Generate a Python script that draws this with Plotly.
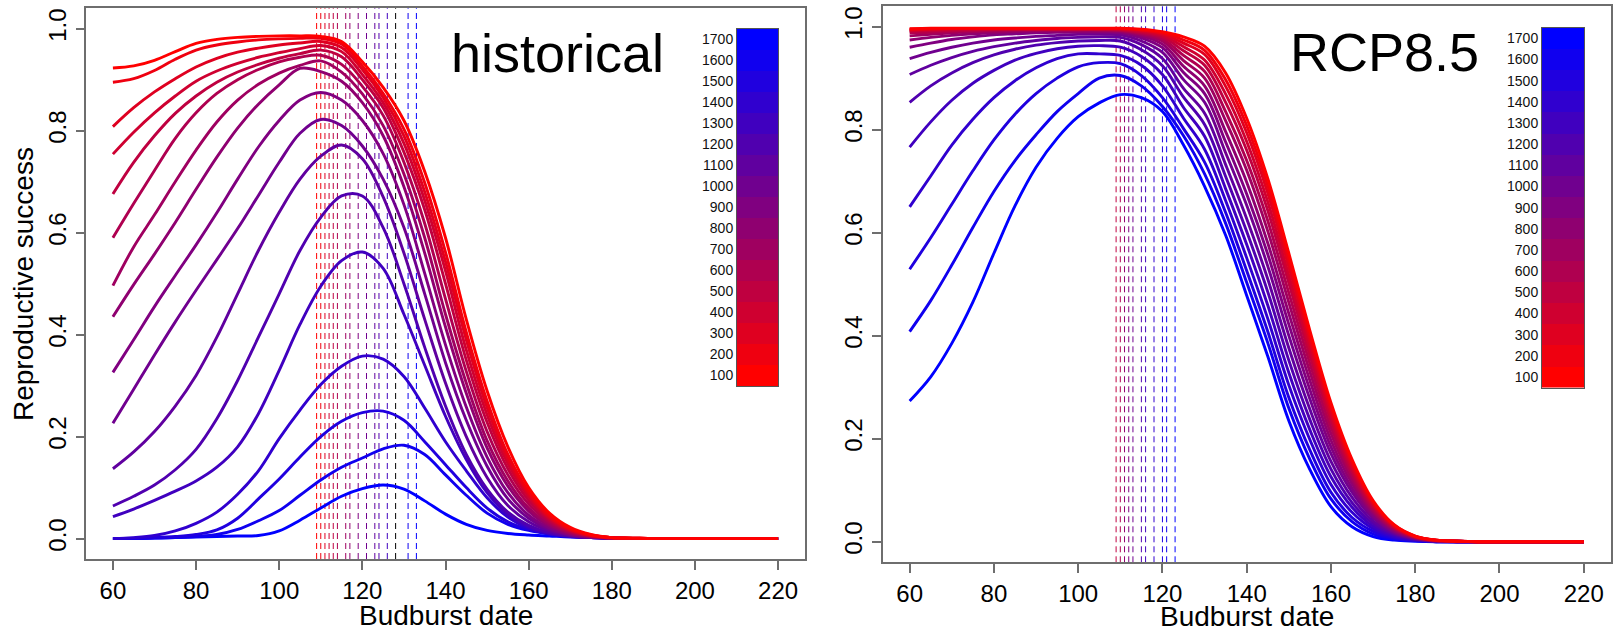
import plotly.graph_objects as go

# ---------------- data ----------------
budburst_x = [60, 65, 70, 75, 80, 85, 90, 95, 100, 105, 110, 115, 120, 125, 130, 135, 140, 145, 150, 155,
              160, 165, 170, 175, 180, 185, 190, 195, 200, 205, 210, 215, 220]
elevations = [100, 200, 300, 400, 500, 600, 700, 800, 900, 1000, 1100, 1200, 1300, 1400, 1500, 1600, 1700]

# historical climate: reproductive success per elevation
hist_100 = [.923, .927, .938, .955, .971, .979, .983, .985, .986, .986, .985, .975, .935, .885, .82, .72, .59, .43, .29, .18, .10, .05, .022, .008, .002, .001, 0, 0, 0, 0, 0, 0, 0]
hist_200 = [.895, .902, .918, .94, .958, .968, .974, .978, .98, .981, .981, .97, .927, .873, .803, .698, .562, .405, .27, .165, .092, .045, .019, .007, .002, .001, 0, 0, 0, 0, 0, 0, 0]
hist_300 = [.808, .845, .876, .902, .925, .942, .954, .962, .968, .972, .975, .963, .92, .865, .79, .68, .543, .39, .257, .156, .087, .042, .018, .006, .002, .001, 0, 0, 0, 0, 0, 0, 0]
hist_400 = [.754, .797, .835, .868, .897, .917, .932, .944, .953, .961, .967, .955, .91, .855, .775, .663, .525, .37, .243, .147, .082, .039, .016, .006, .002, .001, 0, 0, 0, 0, 0, 0, 0]
hist_500 = [.676, .738, .79, .834, .868, .895, .915, .93, .942, .951, .958, .945, .9, .845, .758, .645, .5, .35, .228, .137, .075, .036, .015, .005, .001, 0, 0, 0, 0, 0, 0, 0, 0]
hist_600 = [.59, .657, .722, .785, .835, .873, .9, .92, .935, .944, .948, .93, .887, .83, .738, .618, .47, .328, .21, .125, .068, .032, .013, .005, .001, 0, 0, 0, 0, 0, 0, 0, 0]
hist_700 = [.496, .572, .635, .70, .762, .817, .86, .891, .913, .928, .937, .915, .872, .81, .715, .59, .44, .305, .192, .113, .06, .028, .011, .004, .001, 0, 0, 0, 0, 0, 0, 0, 0]
hist_800 = [.435, .498, .558, .62, .685, .748, .805, .852, .89, .922, .916, .897, .855, .79, .69, .56, .415, .285, .178, .103, .054, .025, .01, .004, .001, 0, 0, 0, 0, 0, 0, 0, 0]
hist_900 = [.326, .39, .455, .516, .576, .639, .705, .768, .82, .86, .875, .86, .82, .755, .655, .52, .38, .258, .16, .09, .046, .021, .008, .003, .001, 0, 0, 0, 0, 0, 0, 0, 0]
hist_1000 = [.226, .293, .36, .425, .487, .547, .608, .673, .738, .795, .822, .81, .77, .705, .61, .48, .345, .232, .142, .078, .04, .018, .007, .003, .001, 0, 0, 0, 0, 0, 0, 0, 0]
hist_1100 = [.137, .17, .21, .26, .32, .395, .48, .565, .64, .705, .75, .772, .745, .67, .56, .43, .305, .2, .12, .065, .033, .015, .006, .002, .001, 0, 0, 0, 0, 0, 0, 0, 0]
hist_1200 = [.064, .083, .105, .135, .175, .235, .31, .395, .48, .565, .63, .672, .672, .61, .5, .375, .26, .165, .097, .052, .026, .012, .005, .002, .001, 0, 0, 0, 0, 0, 0, 0, 0]
hist_1300 = [.043, .058, .075, .093, .113, .14, .18, .245, .33, .42, .495, .545, .562, .53, .44, .34, .24, .155, .09, .047, .023, .011, .005, .002, .001, 0, 0, 0, 0, 0, 0, 0, 0]
hist_1400 = [0, .002, .006, .015, .03, .052, .087, .133, .196, .252, .302, .338, .358, .352, .318, .256, .19, .133, .08, .042, .02, .009, .004, .002, .001, 0, 0, 0, 0, 0, 0, 0, 0]
hist_1500 = [0, .001, .002, .004, .008, .017, .04, .078, .117, .16, .2, .23, .247, .25, .232, .19, .145, .1, .06, .033, .018, .01, .005, .003, .001, 0, 0, 0, 0, 0, 0, 0, 0]
hist_1600 = [0, 0, .001, .002, .004, .008, .018, .035, .055, .085, .115, .14, .158, .176, .183, .165, .125, .085, .05, .028, .016, .009, .005, .003, .001, 0, 0, 0, 0, 0, 0, 0, 0]
hist_1700 = [0, 0, .001, .002, .003, .004, .005, .006, .015, .036, .06, .083, .098, .105, .097, .074, .048, .028, .016, .01, .007, .005, .003, .002, .001, 0, 0, 0, 0, 0, 0, 0, 0]

# RCP8.5 climate
rcp_100 = [.996, .997, .997, .997, .997, .997, .997, .997, .997, .997, .997, .995, .99, .98, .962, .91, .822, .705, .56, .41, .27, .16, .08, .033, .011, .003, .001, 0, 0, 0, 0, 0, 0]
rcp_200 = [.995, .996, .996, .996, .996, .996, .996, .996, .996, .996, .996, .994, .988, .974, .954, .897, .808, .691, .547, .399, .262, .155, .077, .032, .011, .003, .001, 0, 0, 0, 0, 0, 0]
rcp_300 = [.994, .995, .996, .996, .996, .996, .996, .996, .996, .996, .996, .993, .986, .968, .946, .884, .794, .677, .533, .388, .253, .149, .074, .031, .010, .003, .001, 0, 0, 0, 0, 0, 0]
rcp_400 = [.993, .994, .995, .995, .995, .995, .995, .995, .995, .995, .995, .991, .983, .961, .935, .869, .777, .66, .517, .375, .244, .143, .071, .029, .010, .003, .001, 0, 0, 0, 0, 0, 0]
rcp_500 = [.991, .992, .993, .994, .995, .995, .995, .995, .995, .995, .994, .989, .98, .953, .925, .853, .76, .643, .502, .361, .234, .136, .067, .028, .009, .002, .001, 0, 0, 0, 0, 0, 0]
rcp_600 = [.988, .989, .991, .992, .993, .994, .994, .994, .994, .994, .993, .987, .976, .944, .913, .835, .74, .623, .483, .346, .222, .129, .063, .026, .009, .002, .001, 0, 0, 0, 0, 0, 0]
rcp_700 = [.982, .985, .988, .99, .991, .992, .993, .993, .993, .993, .992, .985, .972, .934, .9, .817, .721, .603, .464, .33, .21, .121, .059, .024, .008, .002, .001, 0, 0, 0, 0, 0, 0]
rcp_800 = [.974, .979, .983, .986, .988, .99, .991, .991, .991, .991, .99, .982, .966, .923, .885, .796, .698, .58, .443, .313, .197, .113, .055, .022, .007, .002, .001, 0, 0, 0, 0, 0, 0]
rcp_900 = [.96, .968, .975, .98, .984, .986, .988, .989, .989, .989, .988, .978, .959, .911, .87, .776, .675, .558, .422, .295, .184, .104, .05, .02, .007, .002, .001, 0, 0, 0, 0, 0, 0]
rcp_1000 = [.938, .95, .96, .968, .974, .978, .981, .983, .985, .985, .984, .972, .95, .897, .853, .755, .653, .535, .4, .277, .171, .096, .046, .018, .006, .001, 0, 0, 0, 0, 0, 0, 0]
rcp_1100 = [.907, .925, .94, .952, .961, .968, .973, .977, .979, .98, .979, .965, .938, .88, .832, .732, .627, .51, .376, .257, .156, .086, .04, .016, .005, .001, 0, 0, 0, 0, 0, 0, 0]
rcp_1200 = [.853, .885, .91, .93, .945, .956, .964, .969, .972, .973, .972, .955, .924, .863, .81, .709, .602, .485, .352, .237, .141, .076, .035, .014, .005, .001, 0, 0, 0, 0, 0, 0, 0]
rcp_1300 = [.766, .815, .857, .89, .915, .935, .948, .957, .962, .963, .96, .942, .907, .843, .787, .685, .577, .459, .328, .217, .126, .067, .03, .012, .004, .001, 0, 0, 0, 0, 0, 0, 0]
rcp_1400 = [.65, .71, .77, .82, .862, .895, .92, .938, .947, .947, .944, .925, .885, .822, .762, .662, .551, .433, .304, .198, .111, .057, .025, .009, .003, .001, 0, 0, 0, 0, 0, 0, 0]
rcp_1500 = [.529, .59, .655, .72, .78, .83, .87, .9, .922, .93, .928, .905, .862, .802, .737, .639, .526, .408, .28, .178, .096, .047, .02, .007, .002, 0, 0, 0, 0, 0, 0, 0, 0]
rcp_1600 = [.408, .468, .537, .61, .68, .74, .79, .835, .87, .9, .905, .885, .845, .788, .714, .618, .503, .386, .259, .16, .083, .039, .015, .005, .002, 0, 0, 0, 0, 0, 0, 0, 0]
rcp_1700 = [.273, .32, .385, .465, .56, .652, .727, .783, .825, .852, .868, .862, .835, .77, .69, .595, .478, .36, .235, .14, .068, .029, .01, .003, .001, 0, 0, 0, 0, 0, 0, 0, 0]

# optimal budburst dates (dashed lines) and the elevation they belong to (None = black)
hist_dates = [109, 110, 111, 112, 113, 114, 116, 117, 119, 121, 123, 124, 126, 128, 131, 133]
hist_date_elev = [100, 200, 300, 400, 500, 600, 700, 800, 900, 1000, 1100, 1200, 1300, None, 1600, 1700]
rcp_dates = [109, 110, 111, 112, 113, 115, 116, 118, 120, 121, 123]
rcp_date_elev = [500, 600, 800, 900, 1000, 1200, 1300, 1400, 1500, 1600, 1700]

x_ticks = [60, 80, 100, 120, 140, 160, 180, 200, 220]
y_ticks = [0.0, 0.2, 0.4, 0.6, 0.8, 1.0]

hist_series = [hist_100, hist_200, hist_300, hist_400, hist_500, hist_600, hist_700, hist_800, hist_900,
               hist_1000, hist_1100, hist_1200, hist_1300, hist_1400, hist_1500, hist_1600, hist_1700]
rcp_series = [rcp_100, rcp_200, rcp_300, rcp_400, rcp_500, rcp_600, rcp_700, rcp_800, rcp_900,
              rcp_1000, rcp_1100, rcp_1200, rcp_1300, rcp_1400, rcp_1500, rcp_1600, rcp_1700]

# ---------------- style ----------------
FONT = "Liberation Sans, Arial, sans-serif"
W, H = 1617, 631
FRAME = "#6e6e6e"


def elev_color(e):
    if e is None:
        return "#000000"
    t = (e - elevations[0]) / (elevations[-1] - elevations[0])
    return "rgb(%d,0,%d)" % (round(255 * (1 - t)), round(255 * t))


def px_dom(a, b, total):
    return [a / total, b / total]


def py_dom(top, bottom):
    return [1 - bottom / H, 1 - top / H]


panels = [
    dict(xa="x", ya="y", series=hist_series, dates=hist_dates, delev=hist_date_elev,
         xdom=px_dom(86.3, 804.7, W), ydom=py_dom(8.3, 559.0),
         cb_x=px_dom(737, 778, W), cb_y=py_dom(28.5, 386.0), title="historical", title_x=557, title_y=53,
         xlab_y=615),
    dict(xa="x2", ya="y2", series=rcp_series, dates=rcp_dates, delev=rcp_date_elev,
         xdom=px_dom(882.7, 1610.7, W), ydom=py_dom(6.0, 562.3),
         cb_x=px_dom(1542, 1584, W), cb_y=py_dom(27.7, 387.7), title="RCP8.5", title_x=1384, title_y=52,
         xlab_y=616),
]

fig = go.Figure()
shapes = []
annotations = []

for p in panels:
    # dashed optimum lines
    for d, e in zip(p["dates"], p["delev"]):
        shapes.append(dict(type="line", xref=p["xa"], yref=p["ya"] + " domain", x0=d, x1=d, y0=0, y1=1,
                           line=dict(color=elev_color(e), width=1, dash="6px,4px"), layer="below"))
    # curves (blue first, red on top)
    for e, ys in reversed(list(zip(elevations, p["series"]))):
        fig.add_trace(go.Scatter(x=budburst_x, y=ys, mode="lines", xaxis=p["xa"], yaxis=p["ya"],
                                 line=dict(color=elev_color(e), width=2.9, shape="spline", smoothing=1.0),
                                 showlegend=False, hoverinfo="skip"))

# colour bars as small heatmaps
cb_colorscale = [[i / (len(elevations) - 1), elev_color(e)] for i, e in enumerate(elevations)]
for k, p in enumerate(panels):
    xa = "x%d" % (k + 3)
    ya = "y%d" % (k + 3)
    fig.add_trace(go.Heatmap(x=[0], y=elevations, z=[[i] for i in range(len(elevations))],
                             colorscale=cb_colorscale, zmin=0, zmax=len(elevations) - 1,
                             showscale=False, xaxis=xa, yaxis=ya, hoverinfo="skip"))

axis_common = dict(showline=True, mirror=True, linecolor=FRAME, linewidth=1.5, ticks="outside",
                   ticklen=9, tickwidth=1.5, tickcolor=FRAME, showgrid=False, zeroline=False,
                   tickfont=dict(family=FONT, size=24, color="#000"))

layout = dict(width=W, height=H, margin=dict(l=0, r=0, t=0, b=0), autosize=False,
              paper_bgcolor="white", plot_bgcolor="white", font=dict(family=FONT, color="#000"))

for k, p in enumerate(panels):
    xk = "xaxis" if k == 0 else "xaxis2"
    yk = "yaxis" if k == 0 else "yaxis2"
    layout[xk] = dict(axis_common, domain=p["xdom"], range=[53.6, 226.4], tickvals=x_ticks,
                      anchor=p["ya"])
    layout[yk] = dict(axis_common, domain=p["ydom"], range=[-0.04, 1.04], tickvals=y_ticks,
                      tickformat=".1f", tickangle=-90, anchor=p["xa"])
    layout["xaxis%d" % (k + 3)] = dict(domain=p["cb_x"], range=[-0.5, 0.5], showticklabels=False,
                                       ticks="", showline=True, mirror=True, linecolor="#555",
                                       linewidth=1, showgrid=False, zeroline=False, anchor="y%d" % (k + 3))
    layout["yaxis%d" % (k + 3)] = dict(domain=p["cb_y"], range=[50, 1750], tickvals=elevations,
                                       ticks="", showline=True, mirror=True, linecolor="#555",
                                       linewidth=1, showgrid=False, zeroline=False, side="left",
                                       tickfont=dict(family=FONT, size=14, color="#111"),
                                       anchor="x%d" % (k + 3))
    annotations.append(dict(text=p["title"], xref="paper", yref="paper", x=p["title_x"] / W,
                            y=1 - p["title_y"] / H, xanchor="center", yanchor="middle", showarrow=False,
                            font=dict(family=FONT, size=54, color="#000")))
    annotations.append(dict(text="Budburst date", xref="paper", yref="paper",
                            x=(p["xdom"][0] + p["xdom"][1]) / 2, y=1 - p["xlab_y"] / H,
                            xanchor="center", yanchor="middle", showarrow=False,
                            font=dict(family=FONT, size=28, color="#000")))

annotations.append(dict(text="Reproductive success", xref="paper", yref="paper", x=23 / W,
                        y=1 - 284 / H, xanchor="center", yanchor="middle", textangle=-90,
                        showarrow=False, font=dict(family=FONT, size=28, color="#000")))

layout["shapes"] = shapes
layout["annotations"] = annotations
fig.update_layout(**layout)

# remove the default page margin so the figure sits at the window's top-left corner
fig.write_html("out.html", config={"displayModeBar": False},
               post_script="document.body.style.margin='0';document.body.style.overflow='hidden';")
